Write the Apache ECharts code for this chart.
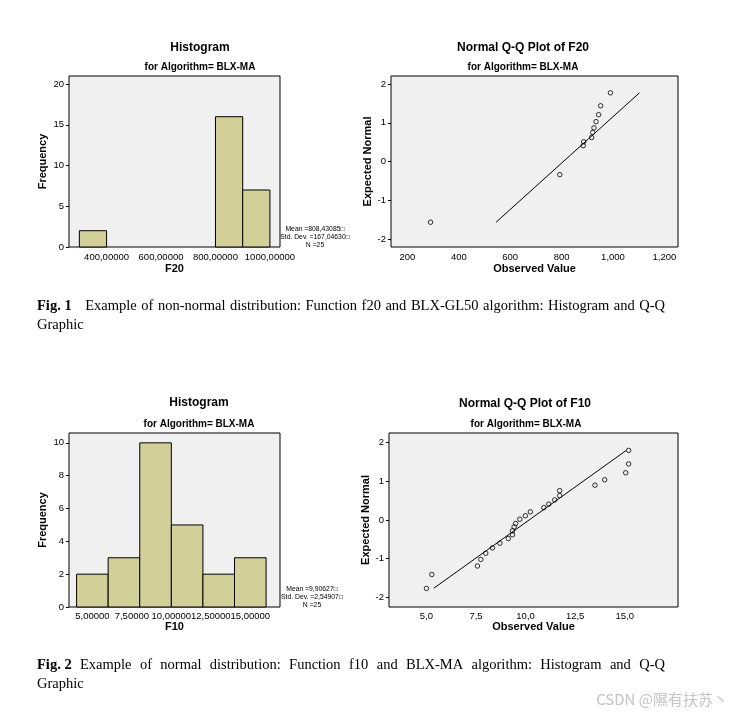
<!DOCTYPE html>
<html>
<head>
<meta charset="utf-8">
<script src="https://cdn.jsdelivr.net/npm/echarts@6/dist/echarts.min.js"></script>
<style>
html,body{margin:0;padding:0;background:#fff;}
#chart{width:732px;height:718px;}
</style>
</head>
<body>
<div id="chart"></div>
<script>
// ---------- DATA ----------
// Fig.1 histogram of F20
const f20BinStart = [300, 800, 900];
const f20BinEnd   = [400, 900, 1000];
const f20Counts   = [2, 16, 7];
const f20XTicks   = [400, 600, 800, 1000];
const f20YTicks   = [0, 5, 10, 15, 20];
const f20Stats    = ['Mean =808,43085\u25A1', 'Std. Dev. =167,04630\u25A1', 'N =25'];

// Fig.1 Q-Q plot of F20
const f20Observed = [290, 793, 884, 886, 917, 921, 926, 934, 944, 952, 990];
const f20Expected = [-1.57, -0.34, 0.41, 0.51, 0.62, 0.75, 0.87, 1.03, 1.21, 1.44, 1.775];
const f20LineX    = [545, 1103];
const f20LineY    = [-1.57, 1.775];
const f20QQXTicks = [200, 400, 600, 800, 1000, 1200];
const qqYTicks    = [-2, -1, 0, 1, 2];

// Fig.2 histogram of F10
const f10BinStart = [4, 6, 8, 10, 12, 14];
const f10BinEnd   = [6, 8, 10, 12, 14, 16];
const f10Counts   = [2, 3, 10, 5, 2, 3];
const f10XTicks   = [5, 7.5, 10, 12.5, 15];
const f10YTicks   = [0, 2, 4, 6, 8, 10];
const f10Stats    = ['Mean =9,90627\u25A1', 'Std. Dev. =2,54907\u25A1', 'N =25'];

// Fig.2 Q-Q plot of F10
const f10Observed = [5.00, 5.27, 7.57, 7.74, 7.99, 8.33, 8.70, 9.13, 9.34, 9.34, 9.42, 9.50, 9.71, 9.99, 10.24, 10.92, 11.17, 11.47, 11.72, 11.72, 13.50, 13.99, 15.05, 15.20, 15.20];
const f10Expected = [-1.77, -1.41, -1.19, -1.02, -0.86, -0.72, -0.60, -0.48, -0.38, -0.28, -0.18, -0.09, 0.02, 0.11, 0.21, 0.32, 0.41, 0.52, 0.63, 0.76, 0.90, 1.04, 1.22, 1.45, 1.80];
const f10LineX    = [5.37, 15.08];
const f10LineY    = [-1.765, 1.80];
const f10QQXTicks = [5, 7.5, 10, 12.5, 15];

// Texts
const histTitle = 'Histogram';
const subTitle = 'for Algorithm= BLX-MA';
const qqTitle1 = 'Normal Q-Q Plot of F20';
const qqTitle2 = 'Normal Q-Q Plot of F10';
const caption1 = ['Fig. 1', 'Example', 'of', 'non-normal', 'distribution:', 'Function', 'f20', 'and', 'BLX-GL50', 'algorithm:', 'Histogram', 'and', 'Q-Q'];
const caption2 = ['Fig. 2', 'Example', 'of', 'normal', 'distribution:', 'Function', 'f10', 'and', 'BLX-MA', 'algorithm:', 'Histogram', 'and', 'Q-Q'];
const captionLine2 = 'Graphic';
const watermark = 'CSDN @隰有扶苏丶';

// ---------- STYLE ----------
const SANS = '"Liberation Sans", Arial, sans-serif';
const SERIF = '"Liberation Serif", "Times New Roman", serif';
const BAR = '#d3cf99';
const BG = '#f0f0f0';

const chart = echarts.init(document.getElementById('chart'), null, {renderer: 'canvas'});

const commaDec = d => v => v.toFixed(d).replace('.', ',');
const thousands = v => v.toLocaleString('en-US');

function gridOf(left, top, width, height) {
  return {left, top, width, height, show: true, backgroundColor: BG, borderColor: '#000', borderWidth: 1, containLabel: false};
}

function xAxisOf(gi, min, max, ticks, fmt, name, gap, margin) {
  return {
    type: 'value', gridIndex: gi, min, max,
    axisLine: {show: false}, splitLine: {show: false},
    axisTick: {show: false},
    axisLabel: {customValues: ticks, formatter: fmt, color: '#000', fontFamily: SANS, fontSize: 9.5, margin},
    name, nameLocation: 'middle', nameGap: gap,
    nameTextStyle: {color: '#000', fontFamily: SANS, fontSize: 11, fontWeight: 'bold'}
  };
}
function yAxisOf(gi, min, max, ticks, name, gap) {
  return {
    type: 'value', gridIndex: gi, min, max,
    axisLine: {show: false}, splitLine: {show: false},
    axisTick: {show: true, customValues: ticks, length: 3, lineStyle: {color: '#000'}},
    axisLabel: {customValues: ticks, color: '#000', fontFamily: SANS, fontSize: 9.5, margin: 5},
    name, nameLocation: 'middle', nameGap: gap,
    nameTextStyle: {color: '#000', fontFamily: SANS, fontSize: 11, fontWeight: 'bold'}
  };
}

function histSeries(ai, starts, ends, counts) {
  return {
    type: 'custom', xAxisIndex: ai, yAxisIndex: ai,
    data: starts.map((s, i) => [s, ends[i], counts[i]]),
    encode: {x: [0, 1], y: 2},
    renderItem(params, api) {
      const p0 = api.coord([api.value(0), 0]);
      const p1 = api.coord([api.value(1), api.value(2)]);
      return {type: 'rect', shape: {x: p0[0], y: p1[1], width: p1[0] - p0[0], height: p0[1] - p1[1]},
              style: {fill: BAR, stroke: '#000', lineWidth: 1}};
    },
    silent: true
  };
}
function qqPoints(ai, xs, ys) {
  return {type: 'scatter', xAxisIndex: ai, yAxisIndex: ai, data: xs.map((x, i) => [x, ys[i]]),
          symbol: 'circle', symbolSize: 4.5, itemStyle: {color: 'rgba(0,0,0,0)', borderColor: '#000', borderWidth: 1}, silent: true, z: 3};
}
function qqLine(ai, xs, ys) {
  return {type: 'line', xAxisIndex: ai, yAxisIndex: ai, data: xs.map((x, i) => [x, ys[i]]),
          symbol: 'none', lineStyle: {color: '#000', width: 1}, silent: true, z: 2};
}

// ---------- TEXT ELEMENTS ----------
function txt(x, y, text, size, bold, align, family, color) {
  return {type: 'text', x, y, style: {text, fill: color || '#000', font: (bold ? 'bold ' : '') + size + 'px ' + (family || SANS), align: align || 'center', verticalAlign: 'middle'}};
}
const CAP = 14.5;
const measureCtx = document.createElement('canvas').getContext('2d');
function justified(words, x0, x1, y, firstGapWeight) {
  const fonts = words.map((w, i) => (i === 0 ? 'bold ' : '') + CAP + 'px ' + SERIF);
  const widths = words.map((w, i) => { measureCtx.font = fonts[i]; return measureCtx.measureText(w).width; });
  const total = widths.reduce((a, b) => a + b, 0);
  const weights = words.slice(0, -1).map((w, i) => i === 0 ? firstGapWeight : 1);
  const wsum = weights.reduce((a, b) => a + b, 0);
  const unit = (x1 - x0 - total) / wsum;
  const els = [];
  let x = x0;
  words.forEach((w, i) => {
    els.push({type: 'text', x, y, style: {text: w, fill: '#000', font: fonts[i], align: 'left', verticalAlign: 'middle'}});
    x += widths[i] + (weights[i] || 0) * unit;
  });
  return els;
}

const graphics = [
  txt(200, 48, histTitle, 12, true),
  txt(200, 67, subTitle, 10, true),
  txt(523, 48, qqTitle1, 12, true),
  txt(523, 67, subTitle, 10, true),
  txt(199, 403, histTitle, 12, true),
  txt(199, 424, subTitle, 10, true),
  txt(525, 404, qqTitle2, 12, true),
  txt(526, 424, subTitle, 10, true),
  ...f20Stats.map((s, i) => txt(315, 229 + i * 8.3, s, 6.8, false)),
  ...f10Stats.map((s, i) => txt(312, 589 + i * 8, s, 6.8, false)),
  ...justified(caption1, 37, 665, 306, 3),
  txt(37, 325, captionLine2, CAP, false, 'left', SERIF),
  ...justified(caption2, 37, 665, 665, 1),
  txt(37, 684, captionLine2, CAP, false, 'left', SERIF),
  txt(728, 699, watermark, 15, false, 'right', '"Noto Sans CJK SC", sans-serif', '#c4c4c4')
];

const option = {
  backgroundColor: '#fff',
  animation: false,
  grid: [
    gridOf(69, 76, 211, 171),
    gridOf(391, 76, 287, 171),
    gridOf(69, 433, 211, 174),
    gridOf(389, 433, 289, 174)
  ],
  xAxis: [
    xAxisOf(0, 262, 1037, f20XTicks, commaDec(5), 'F20', 16, 5),
    xAxisOf(1, 136, 1253, f20QQXTicks, thousands, 'Observed Value', 16, 5),
    xAxisOf(2, 3.52, 16.88, f10XTicks, commaDec(5), 'F10', 14, 4),
    xAxisOf(3, 3.11, 17.69, f10QQXTicks, commaDec(1), 'Observed Value', 14, 4)
  ],
  yAxis: [
    yAxisOf(0, 0, 21, f20YTicks, 'Frequency', 21),
    yAxisOf(1, -2.21, 2.21, qqYTicks, 'Expected Normal', 16),
    yAxisOf(2, 0, 10.6, f10YTicks, 'Frequency', 21),
    yAxisOf(3, -2.25, 2.25, qqYTicks, 'Expected Normal', 16)
  ],
  series: [
    histSeries(0, f20BinStart, f20BinEnd, f20Counts),
    qqLine(1, f20LineX, f20LineY),
    qqPoints(1, f20Observed, f20Expected),
    histSeries(2, f10BinStart, f10BinEnd, f10Counts),
    qqLine(3, f10LineX, f10LineY),
    qqPoints(3, f10Observed, f10Expected)
  ],
  graphic: graphics
};
chart.setOption(option);
</script>
</body>
</html>
